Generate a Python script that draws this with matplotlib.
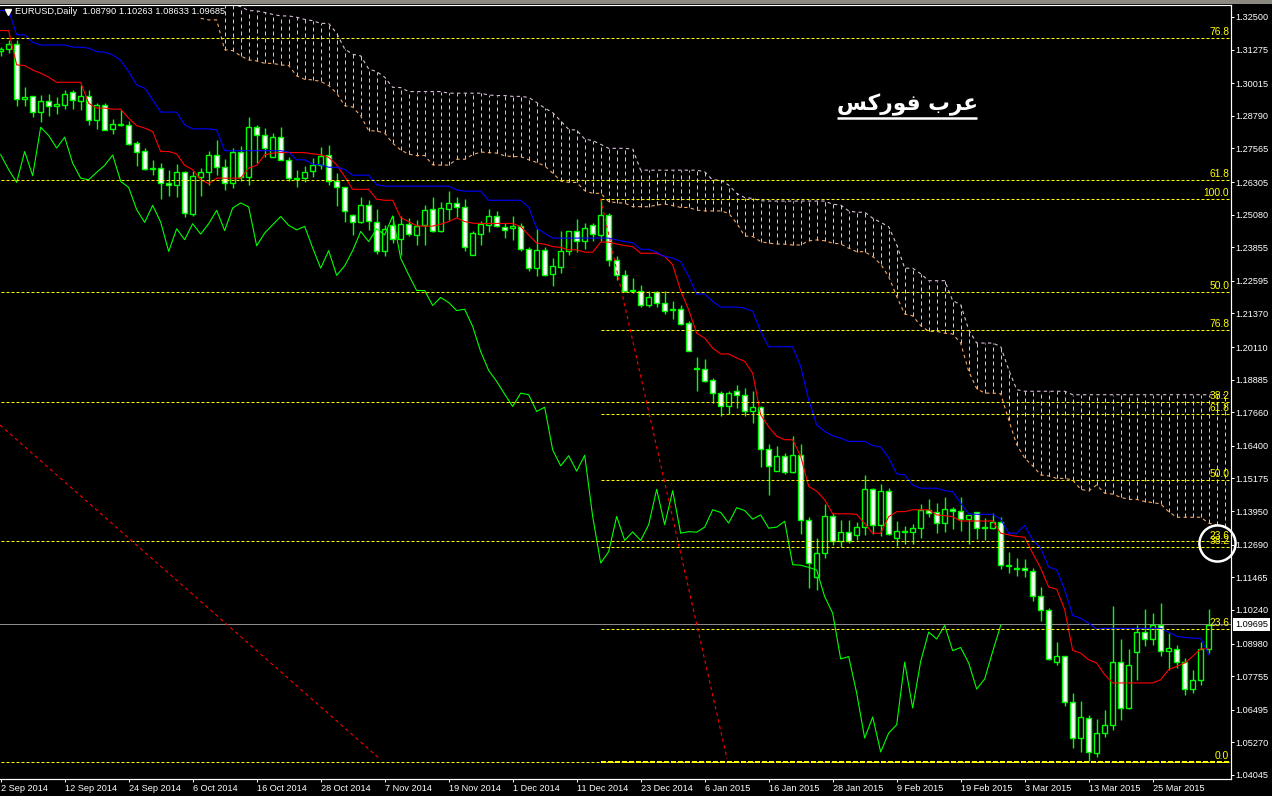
import matplotlib
matplotlib.use("Agg")
import matplotlib.pyplot as plt
from matplotlib.patches import Rectangle

plt.rcParams['font.family'] = ['Liberation Sans', 'DejaVu Sans']

highs = [1.3136,1.3164,1.3164,1.2986,1.2955,1.2958,1.2960,1.2949,1.2976,1.2976,1.2995,1.2976,1.2926,1.2926,1.2866,1.2902,1.2861,1.2783,1.2758,1.2714,
 1.2701,1.2676,1.2699,1.2670,1.2670,1.2683,1.2748,1.2789,1.2716,1.2760,1.2766,1.2874,1.2845,1.2833,1.2814,1.2838,1.2726,1.2676,1.2689,1.2720,
 1.2762,1.2770,1.2663,1.2613,1.2510,1.2573,1.2563,1.2528,1.2470,1.2503,1.2503,1.2495,1.2488,1.2545,1.2573,1.2557,1.2597,1.2573,1.2566,1.2445,
 1.2483,1.2528,1.2520,1.2478,1.2503,1.2476,1.2386,1.2455,1.2388,1.2345,1.2445,1.2445,1.2491,1.2478,1.2476,1.2566,1.2513,1.2351,1.2301,1.2270,
 1.2245,1.2220,1.2220,1.2220,1.2182,1.2170,1.2107,1.1973,1.1967,1.1895,1.1845,1.1845,1.1870,1.1857,1.1845,1.1788,1.1648,1.1638,1.1613,1.1678,
 1.1648,1.1374,1.1294,1.1422,1.1388,1.1362,1.1362,1.1356,1.1531,1.1481,1.1497,1.1481,1.1359,1.1339,1.1347,1.1422,1.1441,1.1424,1.1447,1.1412,
 1.1449,1.1381,1.1393,1.1368,1.1387,1.1374,1.1242,1.1218,1.1214,1.1181,1.1109,1.1031,1.0903,1.0850,1.0712,1.0683,1.0631,1.0614,1.0649,1.1040,
 1.0915,1.0877,1.0966,1.1028,1.1012,1.1049,1.0937,1.0891,1.0843,1.0799,1.0902,1.10263]
lows = [1.3104,1.3114,1.2916,1.2916,1.2874,1.2854,1.2879,1.2886,1.2904,1.2904,1.2901,1.2845,1.2830,1.2825,1.2811,1.2839,1.2770,1.2692,1.2674,1.2658,
 1.2567,1.2579,1.2576,1.2498,1.2504,1.2579,1.2618,1.2655,1.2601,1.2607,1.2633,1.2620,1.2701,1.2726,1.2726,1.2712,1.2633,1.2610,1.2630,1.2651,
 1.2679,1.2620,1.2541,1.2482,1.2432,1.2476,1.2451,1.2361,1.2353,1.2401,1.2357,1.2426,1.2395,1.2395,1.2441,1.2441,1.2488,1.2498,1.2370,1.2356,
 1.2395,1.2441,1.2461,1.2420,1.2413,1.2373,1.2298,1.2276,1.2276,1.2242,1.2288,1.2357,1.2366,1.2378,1.2410,1.2410,1.2316,1.2261,1.2216,1.2213,
 1.2160,1.2163,1.2163,1.2136,1.2117,1.2092,1.1995,1.1847,1.1878,1.1801,1.1751,1.1761,1.1782,1.1751,1.1726,1.1562,1.1455,1.1547,1.1534,1.1537,
 1.1311,1.1105,1.1099,1.1219,1.1269,1.1260,1.1275,1.1287,1.1306,1.1311,1.1300,1.1306,1.1265,1.1271,1.1272,1.1293,1.1374,1.1312,1.1318,1.1328,
 1.1322,1.1272,1.1291,1.1287,1.1327,1.1178,1.1162,1.1153,1.1149,1.1056,1.0983,1.0835,1.0818,1.0662,1.0506,1.0490,1.0456,1.0472,1.0546,1.0575,
 1.0610,1.0652,1.0762,1.0887,1.0893,1.0852,1.0799,1.0806,1.0706,1.0712,1.0743,1.08633]
opens = [1.3124,1.3129,1.3148,1.2941,1.2952,1.2892,1.2933,1.2915,1.2921,1.2970,1.2936,1.2955,1.2863,1.2919,1.2831,1.2844,1.2844,1.2776,1.2746,1.2679,
 1.2683,1.2626,1.2618,1.2668,1.2509,1.2651,1.2667,1.2732,1.2685,1.2625,1.2745,1.2651,1.2836,1.2806,1.2726,1.2799,1.2713,1.2640,1.2644,1.2670,
 1.2694,1.2731,1.2633,1.2611,1.2506,1.2480,1.2543,1.2482,1.2371,1.2468,1.2415,1.2472,1.2433,1.2471,1.2528,1.2446,1.2531,1.2551,1.2536,1.2356,
 1.2437,1.2471,1.2502,1.2463,1.2456,1.2465,1.2378,1.2307,1.2375,1.2285,1.2311,1.2372,1.2445,1.2408,1.2471,1.2433,1.2506,1.2336,1.2280,1.2221,
 1.2223,1.2167,1.2216,1.2176,1.2150,1.2152,1.2101,1.1928,1.1928,1.1887,1.1838,1.1788,1.1846,1.1830,1.1770,1.1786,1.1628,1.1547,1.1601,1.1542,
 1.1605,1.1360,1.1146,1.1237,1.1376,1.1284,1.1315,1.1307,1.1337,1.1477,1.1342,1.1472,1.1294,1.1316,1.1316,1.1333,1.1398,1.1393,1.1349,1.1404,
 1.1394,1.1364,1.1391,1.1331,1.1333,1.1356,1.1189,1.1176,1.1181,1.1172,1.1076,1.1023,1.0827,1.0850,1.0678,1.0543,1.0617,1.0487,1.0562,1.0591,
 1.0828,1.0655,1.0866,1.0941,1.0915,1.0966,1.0869,1.0879,1.0828,1.0727,1.0761,1.08790]
closes = [1.3130,1.3149,1.2941,1.2949,1.2892,1.2933,1.2914,1.2923,1.2960,1.2939,1.2955,1.2863,1.2919,1.2825,1.2848,1.2849,1.2775,1.2745,1.2678,1.2684,
 1.2626,1.2619,1.2668,1.2514,1.2654,1.2669,1.2732,1.2686,1.2626,1.2745,1.2651,1.2836,1.2806,1.2758,1.2799,1.2713,1.2645,1.2645,1.2668,1.2693,
 1.2728,1.2633,1.2611,1.2521,1.2480,1.2543,1.2483,1.2371,1.2453,1.2415,1.2472,1.2435,1.2467,1.2525,1.2446,1.2532,1.2551,1.2535,1.2388,1.2438,
 1.2472,1.2502,1.2465,1.2450,1.2465,1.2378,1.2307,1.2375,1.2281,1.2315,1.2371,1.2445,1.2408,1.2457,1.2435,1.2506,1.2336,1.2280,1.2223,1.2226,
 1.2167,1.2198,1.2176,1.2148,1.2155,1.2097,1.1998,1.1933,1.1885,1.1838,1.1788,1.1838,1.1831,1.1770,1.1786,1.1628,1.1563,1.1601,1.1542,1.1605,
 1.1360,1.1199,1.1237,1.1376,1.1282,1.1315,1.1282,1.1337,1.1477,1.1342,1.1472,1.1311,1.1320,1.1321,1.1333,1.1398,1.1387,1.1349,1.1404,1.1394,
 1.1364,1.1380,1.1331,1.1336,1.1356,1.1192,1.1194,1.1181,1.1173,1.1076,1.1023,1.0840,1.0850,1.0678,1.0543,1.0622,1.0491,1.0562,1.0591,1.0828,
 1.0656,1.0817,1.0941,1.0915,1.0966,1.0869,1.0883,1.0829,1.0727,1.0761,1.0877,1.09685]

tenkan = [1.3199,1.3199,1.3070,1.3068,1.3051,1.3039,1.3024]+[1.3005]*4+[1.2926,1.2908,1.2908,1.2904,1.2904,1.2870,1.2842,1.2833,1.2820,1.2745,1.2745,1.2736,1.2693,1.2677,1.2639,1.2624]+[1.2645]*4+[1.2683,1.2693,1.2733,1.2739]+[1.2741]*4+[1.2736,1.2733,
 1.2723,1.2695,1.2651]+[1.2603]*3+[1.2566,1.2562,1.2562,1.2497,1.2482,1.2466,1.2465,1.2465,1.2472,1.2482,1.2496,1.2482,1.2476]+[1.2475]*5+[1.2463,1.2432,1.2401,1.2397,1.2388,1.2385,1.2376,1.2376,1.2367,1.2367,1.2405,1.2405,1.2398,1.2392,1.2388]+[1.2363]*3+[1.2351,1.2320,1.2222,1.2151,1.2063,1.2045,1.2007,1.1985,1.1985,1.1970,1.1957,1.1913,1.1757,1.1711,1.1676,1.1663,1.1663,1.1601,1.1488,1.1470,1.1438]+[1.1385]*3+[1.1383,1.1349,1.1312,1.1312,1.1374,1.1393,1.1393]+[1.1400]*3+[1.1381,1.1378,1.1374]+[1.1358]*5+[1.1312,1.1306,1.1300,1.1297,1.1237,1.1181,1.1110,1.1102,1.1025,1.0872,1.0862,1.0837,1.0825,1.0781]+[1.0750]*6+[1.0762,1.0800,1.0812,1.0825,1.0850,1.0878,1.0878]
kijun = [1.3274,1.3274,1.3183,1.3183,1.3155]+[1.3145]*4+[1.3137,1.3137,1.3133,1.3120,1.3118,1.3108,1.3087,1.3045,1.2995,1.2983,1.2939]+[1.2893]*3+[1.2845]+[1.2830]*3+[1.2826]+[1.2748]*8+[1.2743,1.2714,1.2714,1.2698,1.2695,1.2686,1.2686,1.2678]+[1.2656]*3+[1.2620]+[1.2615]*9+[1.2601]+[1.2596]*3+[1.2562]*5+[1.2536,1.2457,1.2438]+[1.2420]*8+[1.2413,1.2407,1.2403,1.2378,1.2378,1.2367,1.2351,1.2345,1.2332,1.2276,1.2210,1.2210,1.2182]+[1.2161]*3+[1.2157,1.2145,1.2070]+[1.2012]*4+[1.1938,1.1813,1.1719,1.1694,1.1678,1.1669]+[1.1657]*3+[1.1641,1.1636,1.1595,1.1535,1.1531,1.1493]+[1.1481]*3+[1.1472,1.1468,1.1425,1.1385]+[1.1383]*3+[1.1365,1.1312,1.1312,1.1341,1.1287,1.1256,1.1185,1.1175,1.1100,1.1003,1.0993,1.0974,1.0952]+[1.0955]*8+[1.0941,1.0925,1.0921,1.0918,1.0918,1.0856]
chikou = [1.2733,1.2677,1.2629,1.2745,1.2654,1.2836,1.2805,1.2758,1.2799,1.2701,1.2645,1.2639,1.2667,1.2693,1.2732,1.2633,1.2610,1.2527,1.2479,1.2543,
 1.2480,1.2370,1.2455,1.2414,1.2474,1.2435,1.2474,1.2524,1.2448,1.2533,1.2552,1.2537,1.2391,1.2439,1.2470,1.2501,1.2468,1.2451,1.2464,1.2383,
 1.2307,1.2373,1.2280,1.2316,1.2373,1.2445,1.2407,1.2455,1.2432,1.2503,1.2345,1.2282,1.2223,1.2223,1.2167,1.2197,1.2178,1.2148,1.2153,1.2088,
 1.1994,1.1923,1.1882,1.1834,1.1788,1.1838,1.1832,1.1769,1.1785,1.1625,1.1565,1.1603,1.1545,1.1605,1.1375,1.1200,1.1243,1.1375,1.1285,1.1317,
 1.1285,1.1344,1.1477,1.1344,1.1472,1.1312,1.1318,1.1316,1.1335,1.1400,1.1390,1.1350,1.1408,1.1397,1.1365,1.1381,1.1331,1.1335,1.1357,1.1194,
 1.1192,1.1184,1.1174,1.1074,1.1012,1.0840,1.0849,1.0712,1.0543,1.0622,1.0491,1.0562,1.0593,1.0828,1.0656,1.0831,1.0941,1.0915,1.0966,1.0871,
 1.0883,1.0825,1.0727,1.0765,1.0868,1.0966]
cloud_upper_start = 28
cloud_upper = [1.3299,1.3297,1.3289,1.3274,1.3273,1.3267,1.3260,1.3254,1.3254,1.3249,1.3241,1.3236,1.3226,1.3226,1.3189,1.3130,1.3110,1.3104,1.3055,1.3045,1.3024,1.2986,1.2985]+[1.2970]*5+[1.2964]*5+[1.2957,1.2955,1.2955,1.2952,1.2952,1.2948,1.2929,1.2908,1.2891,1.2860,1.2828,1.2825,1.2792,1.2786,1.2772]+[1.2757]*3+[1.2754]+[1.2675]*8+[1.2669,1.2638,1.2638,1.2619,1.2588,1.2572,1.2569,1.2560]+[1.2559]*8+[1.2547,1.2544,1.2522,1.2517,1.2517,1.2495,1.2479,1.2463,1.2395,1.2307,1.2307,1.2286]+[1.2260]*3+[1.2185,1.2170,1.2076]+[1.2026]*3+[1.2013,1.1926,1.1851]+[1.1845]*6+[1.1832]*20
cloud_lower_start = 25
cloud_lower = [1.3245,1.3239,1.3239,1.3127,1.3124,1.3104,1.3089,1.3085,1.3076,1.3076,1.3070,1.3068,1.3029,1.3016,1.3014,1.3008,1.2993,1.2964,1.2917,1.2912,1.2879,1.2823,1.2822,1.2814,1.2776,1.2751,1.2735,1.2730,1.2730,1.2695,1.2694,1.2694,1.2716,1.2716,1.2733,1.2743,1.2741,1.2739,1.2729,1.2726,1.2726,1.2714,1.2704,1.2691,1.2664,1.2635,1.2629,1.2629,1.2598,1.2588,1.2588,1.2557,1.2553,1.2551,1.2538,1.2538,1.2538,1.2544,1.2548,1.2542,1.2535,1.2535,1.2525,1.2522,1.2522,1.2522,1.2513,1.2476,1.2428,1.2426,1.2407,1.2401,1.2398,1.2397,1.2394,1.2394,1.2410,1.2413,1.2410,1.2401,1.2398,1.2382,1.2369,1.2369,1.2351,1.2322,1.2276,1.2201,1.2135,1.2128,1.2091,1.2070,1.2070,1.2063,1.2060,1.2026,1.1920,1.1855,1.1838,1.1838,1.1836,1.1738,1.1645,1.1594,1.1565,1.1531,1.1527,1.1518,1.1518,1.1512,1.1477,1.1471,1.1493,1.1462,1.1459,1.1447,1.1439,1.1439,1.1431,1.1427,1.1422,1.1393]+[1.1372]*4+[1.1350,1.1343,1.1335]

fib_labels = ['76.8','61.8','100.0','50.0','76.8','38.2','61.8','50.0','23.6','38.2','23.6','0.0']
fib_prices = [1.3171,1.2638,1.2567,1.2218,1.2075,1.1805,1.1760,1.1512,1.1281,1.1261,1.0953,1.0455]
fib_start = [0,0,75,0,75,0,75,75,0,75,75,0]
fib_end = 153.6

trend_a_bars = [75, 90.8]
trend_a_prices = [1.2567, 1.0465]
trend_b_bars = [-0.08, 47.4]
trend_b_prices = [1.1718, 1.0465]

date_ticks = list(range(0, 152, 8))
date_labels = ['2 Sep 2014','12 Sep 2014','24 Sep 2014','6 Oct 2014','16 Oct 2014','28 Oct 2014','7 Nov 2014','19 Nov 2014','1 Dec 2014','11 Dec 2014','23 Dec 2014','6 Jan 2015','16 Jan 2015','28 Jan 2015','9 Feb 2015','19 Feb 2015','3 Mar 2015','13 Mar 2015','25 Mar 2015']
price_ticks = [1.32500,1.31275,1.30015,1.28790,1.27565,1.26305,1.25080,1.23855,1.22595,1.21370,1.20110,1.18885,1.17660,1.16400,1.15175,1.13950,1.12690,1.11465,1.10240,1.08980,1.07755,1.06495,1.05270,1.04045]
current_price = 1.09695
title_text = 'EURUSD,Daily  1.08790 1.10263 1.08633 1.09685'
brand_text = '\ufeb2\ufedb\ufead\ufeee\ufed3 \ufe8f\ufeae\ufecb'

assert len(highs) == len(lows) == len(opens) == len(closes) == 152, (len(highs), len(lows), len(opens), len(closes))
assert len(tenkan) == 152 and len(kijun) == 152 and len(chikou) == 126, (len(tenkan), len(kijun), len(chikou))
assert len(cloud_upper) == 126 and len(cloud_lower) == 129, (len(cloud_upper), len(cloud_lower))

W, H = 1272, 796
fig = plt.figure(figsize=(W/100, H/100), dpi=100, facecolor='black')
ax = fig.add_axes([0, (796-779)/H, 1231/W, (779-4.5)/H], facecolor='black')
ax.set_xlim(-0.084, 153.79)
ax.set_ylim(1.03894, 1.32969)
PX = 0.72
CURVE = 0.8
LIME, RED, BLUE = '#00FF00', '#FF0000', '#0000FF'
THISTLE, SANDY, YELLOW = '#D8BFD8', '#F4A460', '#FFFF00'

fig.patches.append(Rectangle((0, 1-3.5/H), 1, 3.5/H, transform=fig.transFigure, facecolor='#8a887f', edgecolor='none'))

bars = list(range(len(closes)))
upper_x = [cloud_upper_start+i for i in range(len(cloud_upper))]
lower_x = [cloud_lower_start+i for i in range(len(cloud_lower))]
hatch_low = [cloud_lower[x-cloud_lower_start] for x in upper_x]
hatch = ax.vlines(upper_x, hatch_low, cloud_upper, colors=THISTLE, linewidth=PX, linestyles=(0, (4, 3)), zorder=1)
hatch.set_snap(True)
ax.plot(upper_x, cloud_upper, color=THISTLE, lw=CURVE, ls=(0, (3, 3)), zorder=1)
ax.plot(lower_x, cloud_lower, color=SANDY, lw=CURVE, ls=(0, (3, 3)), zorder=1)

wicks = ax.vlines(bars, lows, highs, colors=LIME, linewidth=1.0, zorder=3)
wicks.set_snap(True)
body_colors = ['white' if c < o else 'black' for o, c in zip(opens, closes)]
ax.bar(bars, [abs(c-o) for o, c in zip(opens, closes)], bottom=[min(o, c) for o, c in zip(opens, closes)],
       width=0.55, color=body_colors, edgecolor=LIME, linewidth=1.0, zorder=3.1)

ax.plot(bars, tenkan, color=RED, lw=CURVE, zorder=4)
ax.plot(bars, kijun, color=BLUE, lw=CURVE, zorder=4)
ax.plot(range(len(chikou)), chikou, color=LIME, lw=CURVE, zorder=4)

ax.axhline(current_price, color='#8c8c8c', lw=PX, zorder=2)
for price, start, label in zip(fib_prices, fib_start, fib_labels):
    ax.plot([start, fib_end], [price, price], color=YELLOW, lw=PX, ls=(0, (3, 2)), zorder=5)
    ax.text(fib_end-0.02, price+0.0003, label, color=YELLOW, fontsize=7.4, ha='right', va='bottom', zorder=6)
ax.plot([75, fib_end], [fib_prices[-1], fib_prices[-1]], color=YELLOW, lw=PX*2, ls=(0, (2.5, 1)), zorder=5)

ax.plot(trend_a_bars, trend_a_prices, color=RED, lw=CURVE, ls=(0, (3, 3)), zorder=5)
ax.plot(trend_b_bars, trend_b_prices, color=RED, lw=CURVE, ls=(0, (3, 3)), zorder=5)

ax.plot([152.04], [1.1276], marker='o', ms=26, mfc='none', mec='white', mew=1.8, clip_on=False, zorder=7)

ax.text(113.3, 1.2922, brand_text, color='white', fontsize=15.6, fontweight='bold', family='DejaVu Sans', ha='center', va='center', zorder=7)
ax.plot([104.5, 122.0], [1.2871, 1.2871], color='white', lw=1.8, solid_capstyle='butt', zorder=7)

ax.text(1.8, 1.3269, title_text, color='white', fontsize=6.7, ha='left', va='center', zorder=8)
ax.plot([0.95], [1.3270], marker='v', ms=4, color='white', mec='white', zorder=8)

ax.spines['left'].set_visible(False)
for side in ['right', 'bottom', 'top']:
    ax.spines[side].set_color('white')
    ax.spines[side].set_linewidth(PX*1.2)
ax.set_xticks(date_ticks)
ax.set_xticklabels(date_labels, ha='left', color='white', fontsize=6.6)
ax.yaxis.tick_right()
ax.set_yticks(price_ticks)
ax.set_yticklabels([f'{p:.5f}' for p in price_ticks], color='white', fontsize=6.6)
ax.tick_params(axis='both', colors='white', length=2.4, width=PX)
ax.tick_params(axis='x', pad=1)
ax.tick_params(axis='y', pad=1)

ax.annotate('1.09695', xy=(1, current_price), xycoords=('axes fraction', 'data'), xytext=(15, 0), textcoords='offset points',
            color='black', fontsize=6.6, ha='center', va='center', annotation_clip=False, zorder=9,
            bbox=dict(boxstyle='square,pad=0.22', facecolor='white', edgecolor='none'))

fig.savefig('out.png', dpi=100, facecolor='black')
